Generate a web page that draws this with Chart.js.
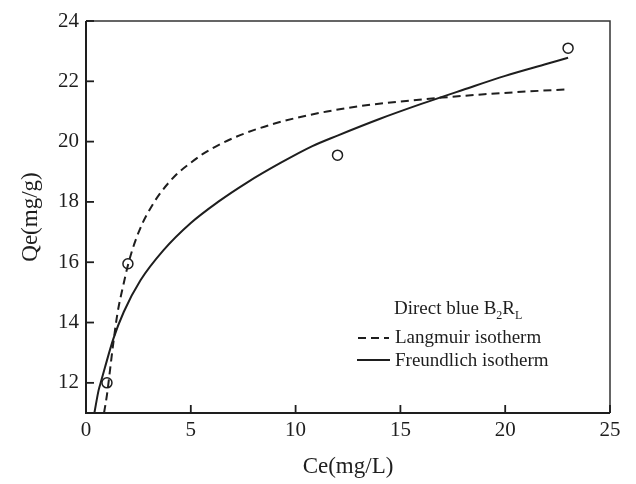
<!DOCTYPE html>
<html>
<head>
<meta charset="utf-8">
<script src="https://cdn.jsdelivr.net/npm/chart.js@4/dist/chart.umd.min.js"></script>
<style>
  body { margin: 0; background: #fff; }
  #wrap { width: 636px; height: 484px; }
</style>
</head>
<body>
<div id="wrap"><canvas id="isothermChart"></canvas></div>
<script>
// measured points
const ceData = [1, 2, 12, 23];
const qeData = [12.0, 15.95, 19.55, 23.1];

// fitted curves
const langCe = [0.86, 1.0, 1.15, 1.3, 1.5, 1.8, 2.0, 2.3, 2.7, 3.0, 3.5, 4.3, 5.0, 5.6, 6.5, 7.2, 8.0, 9.0, 10.0, 11.5, 13, 15, 17, 19, 21, 22.9];
const langQe = [11.0, 11.6, 12.45, 13.3, 14.3, 15.3, 15.9, 16.6, 17.3, 17.7, 18.25, 18.9, 19.3, 19.6, 19.95, 20.17, 20.38, 20.6, 20.78, 21.0, 21.17, 21.33, 21.46, 21.57, 21.66, 21.73];

const freCe = [0.4, 0.6, 0.72, 0.9, 1.3, 1.8, 2.6, 3.7, 5.0, 6.3, 7.7, 9.3, 10.8, 12.0, 14, 16, 18, 20, 22, 23];
const freQe = [11.0, 11.75, 12.05, 12.5, 13.45, 14.35, 15.4, 16.4, 17.3, 18.0, 18.65, 19.3, 19.85, 20.2, 20.75, 21.25, 21.72, 22.18, 22.58, 22.78];

const xTicks = [0, 5, 10, 15, 20, 25];
const yTicks = [12, 14, 16, 18, 20, 22, 24];

const legendTitle = ['Direct blue B', '2', 'R', 'L'];
const legendLabels = ['Langmuir isotherm', 'Freundlich isotherm'];

const ink = '#1e1e1e';
const serif = '"Liberation Serif", "Times New Roman", serif';

const toXY = (xs, ys) => xs.map((x, i) => ({ x, y: ys[i] }));

// frame, inward ticks and the little legend box
const decorations = {
  id: 'decorations',
  afterDraw(chart) {
    const { ctx, chartArea: a, scales } = chart;
    ctx.save();
    ctx.strokeStyle = '#333';
    ctx.lineWidth = 1.5;
    ctx.beginPath();
    ctx.moveTo(a.left, a.top); ctx.lineTo(a.right, a.top); ctx.lineTo(a.right, a.bottom);
    ctx.stroke();
    ctx.lineWidth = 2;
    ctx.strokeStyle = ink;
    ctx.beginPath();
    ctx.moveTo(a.left, a.top); ctx.lineTo(a.left, a.bottom); ctx.lineTo(a.right, a.bottom);
    ctx.stroke();

    ctx.lineWidth = 1.8;
    scales.x.ticks.forEach(t => {
      const px = scales.x.getPixelForValue(t.value);
      ctx.beginPath(); ctx.moveTo(px, a.bottom); ctx.lineTo(px, a.bottom - 8); ctx.stroke();
    });
    scales.y.ticks.forEach(t => {
      const py = scales.y.getPixelForValue(t.value);
      ctx.beginPath(); ctx.moveTo(a.left, py); ctx.lineTo(a.left + 8, py); ctx.stroke();
    });

    // legend
    ctx.fillStyle = ink;
    ctx.textBaseline = 'alphabetic';
    ctx.textAlign = 'left';
    let x = a.left + 308;
    const y0 = a.top + 293;
    ctx.font = '19px ' + serif;
    ctx.fillText(legendTitle[0], x, y0);
    x += ctx.measureText(legendTitle[0]).width;
    ctx.font = '12px ' + serif;
    ctx.fillText(legendTitle[1], x, y0 + 5);
    x += ctx.measureText(legendTitle[1]).width;
    ctx.font = '19px ' + serif;
    ctx.fillText(legendTitle[2], x, y0);
    x += ctx.measureText(legendTitle[2]).width;
    ctx.font = '12px ' + serif;
    ctx.fillText(legendTitle[3], x, y0 + 5);

    ctx.font = '19px ' + serif;
    const textX = a.left + 309;
    const rows = [y0 + 29, y0 + 52];
    ctx.fillText(legendLabels[0], textX, rows[0]);
    ctx.fillText(legendLabels[1], textX, rows[1]);

    ctx.lineWidth = 2;
    ctx.setLineDash([8, 5]);
    ctx.beginPath(); ctx.moveTo(a.left + 272, rows[0] - 5); ctx.lineTo(a.left + 303, rows[0] - 5); ctx.stroke();
    ctx.setLineDash([]);
    ctx.beginPath(); ctx.moveTo(a.left + 271, rows[1] - 6); ctx.lineTo(a.left + 304, rows[1] - 6); ctx.stroke();
    ctx.restore();
  }
};

new Chart(document.getElementById('isothermChart'), {
  type: 'scatter',
  data: {
    datasets: [
      {
        label: legendLabels[0],
        data: toXY(langCe, langQe),
        showLine: true,
        borderColor: ink,
        borderWidth: 2,
        borderDash: [8, 5],
        pointRadius: 0,
        cubicInterpolationMode: 'monotone',
      },
      {
        label: legendLabels[1],
        data: toXY(freCe, freQe),
        showLine: true,
        borderColor: ink,
        borderWidth: 2,
        pointRadius: 0,
        cubicInterpolationMode: 'monotone',
      },
      {
        label: 'data',
        data: toXY(ceData, qeData),
        pointRadius: 5,
        pointBorderWidth: 1.5,
        pointBorderColor: ink,
        pointBackgroundColor: 'rgba(255,255,255,0)',
      },
    ],
  },
  options: {
    responsive: true,
    maintainAspectRatio: false,
    animation: false,
    layout: { padding: { top: 21, right: 26, left: 0, bottom: 0 } },
    plugins: {
      legend: { display: false },
      tooltip: { enabled: false },
    },
    scales: {
      x: {
        type: 'linear',
        min: 0,
        max: 25,
        afterBuildTicks: (s) => { s.ticks = xTicks.map(v => ({ value: v })); },
        afterFit: (s) => { s.height = 71; },
        grid: { display: false, drawTicks: false },
        border: { display: false },
        ticks: { padding: 5, color: ink, font: { family: serif, size: 21 } },
        title: { display: true, text: 'Ce(mg/L)', color: ink, padding: { top: 0, bottom: 3 }, font: { family: serif, size: 23 } },
      },
      y: {
        type: 'linear',
        min: 11,
        max: 24,
        afterBuildTicks: (s) => { s.ticks = yTicks.map(v => ({ value: v })); },
        afterFit: (s) => { s.width = 86; },
        grid: { display: false, drawTicks: false },
        border: { display: false },
        ticks: { padding: 7, color: ink, font: { family: serif, size: 21 } },
        title: { display: true, text: 'Qe(mg/g)', color: ink, padding: { top: 17, bottom: 0 }, font: { family: serif, size: 23 } },
      },
    },
  },
  plugins: [decorations],
});
</script>
</body>
</html>
